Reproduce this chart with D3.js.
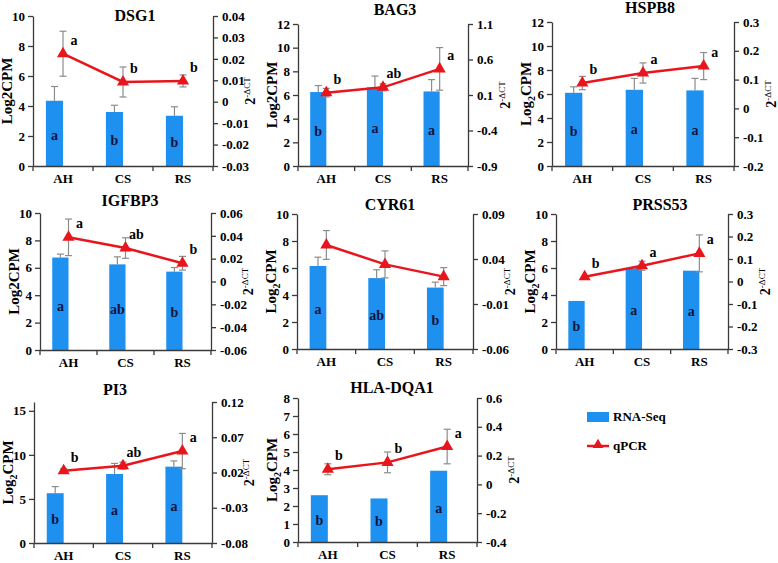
<!DOCTYPE html>
<html>
<head>
<meta charset="utf-8">
<script src="https://cdn.jsdelivr.net/npm/d3@7/dist/d3.min.js"></script>
<style>
  body { margin: 0; background: #fff; }
  text { font-family: "Liberation Serif", "Times New Roman", serif; font-weight: bold; fill: #000; }
</style>
</head>
<body>
<div id="chart"></div>
<script>
// Chart data
var genes = ["DSG1", "BAG3", "HSPB8", "IGFBP3", "CYR61", "PRSS53", "PI3", "HLA-DQA1"];
var groups = ["AH", "CS", "RS"];

// RNA-Seq, Log2CPM (left axis)
var rnaSeq = [
  [4.35, 3.6, 3.35],
  [6.25, 6.65, 6.3],
  [6.1, 6.35, 6.3],
  [6.75, 6.25, 5.72],
  [6.15, 5.25, 4.55],
  [3.56, 5.98, 5.8],
  [5.65, 7.83, 8.66],
  [2.6, 2.42, 3.96]
];
var rnaSeqErr = [
  [0.95, 0.45, 0.6],
  [0.55, 0.95, 1.0],
  [0.5, 0.95, 1.0],
  [0.25, 0.55, 0.3],
  [0.65, 0.62, 0.4],
  [0, 0, 0],
  [0.75, 1.2, 0.65],
  [0, 0, 0]
];
var rnaSeqLetters = [
  ["a", "b", "b"],
  ["b", "a", "a"],
  ["b", "a", "a"],
  ["a", "ab", "b"],
  ["a", "ab", "b"],
  ["b", "a", "a"],
  ["b", "a", "a"],
  ["b", "b", "a"]
];

// qPCR, 2^-dCT (right axis)
var qpcr = [
  [0.0224, 0.0092, 0.0097],
  [0.133, 0.208, 0.468],
  [0.088, 0.123, 0.147],
  [0.0387, 0.0293, 0.016],
  [0.0556, 0.034, 0.0204],
  [0.0215, 0.07, 0.125],
  [0.0226, 0.0297, 0.0504],
  [0.105, 0.153, 0.263]
];
var qpcrErr = [
  [0.0105, 0.007, 0.0028],
  [0.06, 0.05, 0.3],
  [0.023, 0.035, 0.047],
  [0.016, 0.009, 0.006],
  [0.016, 0.015, 0.01],
  [0, 0.02, 0.082],
  [0.003, 0.005, 0.025],
  [0.038, 0.072, 0.12]
];
var qpcrLetters = [
  ["a", "b", "b"],
  ["b", "ab", "a"],
  ["b", "a", "a"],
  ["a", "ab", "b"],
  ["", "", ""],
  ["b", "a", "a"],
  ["b", "ab", "a"],
  ["b", "b", "a"]
];

// Axis ticks
var leftTicks = [
  [0, 2, 4, 6, 8, 10],
  [0, 2, 4, 6, 8, 10, 12],
  [0, 2, 4, 6, 8, 10, 12],
  [0, 2, 4, 6, 8, 10],
  [0, 2, 4, 6, 8, 10],
  [0, 2, 4, 6, 8, 10],
  [0, 5, 10, 15],
  [0, 1, 2, 3, 4, 5, 6, 7, 8]
];
var leftMax = [10, 12, 12, 10, 10, 10, 16, 8];
var rightTicks = [
  [-0.03, -0.02, -0.01, 0, 0.01, 0.02, 0.03, 0.04],
  [-0.9, -0.4, 0.1, 0.6, 1.1],
  [-0.2, -0.1, 0, 0.1, 0.2, 0.3],
  [-0.06, -0.04, -0.02, 0, 0.02, 0.04, 0.06],
  [-0.06, -0.01, 0.04, 0.09],
  [-0.3, -0.2, -0.1, 0, 0.1, 0.2, 0.3],
  [-0.08, -0.03, 0.02, 0.07, 0.12],
  [-0.4, -0.2, 0, 0.2, 0.4, 0.6]
];
// is the "2" in Log2CPM drawn as subscript
var subscript2 = [false, false, true, false, true, true, true, true];
var legendLabels = ["RNA-Seq", "qPCR"];

// Panel frames in pixels
var frames = [
  {left: 33, right: 213, top: 16, bottom: 166, titleX: 135, titleY: 21},
  {left: 298, right: 468, top: 24, bottom: 166, titleX: 395, titleY: 15},
  {left: 552, right: 734, top: 22, bottom: 166, titleX: 650, titleY: 13},
  {left: 40, right: 211, top: 213, bottom: 350, titleX: 130, titleY: 206},
  {left: 297, right: 473, top: 214, bottom: 349, titleX: 390, titleY: 210},
  {left: 556, right: 728, top: 214, bottom: 349, titleX: 660, titleY: 210},
  {left: 34, right: 212, top: 402, bottom: 543, titleX: 115, titleY: 395},
  {left: 298, right: 477, top: 398, bottom: 542, titleX: 392, titleY: 393}
];

var barColor = "#1e90f0";
var lineColor = "#e8161c";
var errColor = "#8c8c8c";
var axisColor = "#3a3a3a";

var svg = d3.select("#chart").append("svg")
  .attr("width", 778)
  .attr("height", 563)
  .style("background", "#fff");

var fmt = function(d) { return String(+d.toFixed(4)); };

genes.forEach(function(gene, i) {
  var f = frames[i];
  var g = svg.append("g");

  var x = d3.scaleBand().domain(groups).range([f.left, f.right]);
  var yL = d3.scaleLinear().domain([0, leftMax[i]]).range([f.bottom, f.top]);
  var yR = d3.scaleLinear()
    .domain(d3.extent(rightTicks[i]))
    .range([f.bottom, f.top]);
  var barW = x.bandwidth() * 0.285;
  var cx = function(k) { return x(k) + x.bandwidth() / 2; };

  // Bars sit left of the category centre
  g.selectAll(".bar").data(groups).enter().append("rect")
    .attr("x", function(k) { return cx(k) - barW; })
    .attr("width", barW)
    .attr("y", function(k, j) { return yL(rnaSeq[i][j]); })
    .attr("height", function(k, j) { return f.bottom - yL(rnaSeq[i][j]); })
    .attr("fill", barColor);

  // Bar error bars (upper only)
  groups.forEach(function(k, j) {
    if (!rnaSeqErr[i][j]) return;
    var bx = cx(k) - barW / 2;
    var y0 = yL(rnaSeq[i][j]), y1 = yL(rnaSeq[i][j] + rnaSeqErr[i][j]);
    g.append("line").attr("x1", bx).attr("x2", bx).attr("y1", y0).attr("y2", y1)
      .attr("stroke", errColor).attr("stroke-width", 1.2);
    g.append("line").attr("x1", bx - 3.5).attr("x2", bx + 3.5).attr("y1", y1).attr("y2", y1)
      .attr("stroke", errColor).attr("stroke-width", 1.2);
  });

  // Bar letters
  g.selectAll(".bl").data(groups).enter().append("text")
    .attr("x", function(k) { return cx(k) - barW / 2; })
    .attr("y", function(k, j) { return yL(rnaSeq[i][j] * 0.48) + 5; })
    .attr("text-anchor", "middle")
    .style("font-size", "14px")
    .style("fill", "#14143c")
    .text(function(k, j) { return rnaSeqLetters[i][j]; });

  // Axes
  var leftAxis = d3.axisLeft(yL).tickValues(leftTicks[i]).tickSize(5).tickSizeOuter(0).tickPadding(3);
  var rightAxis = d3.axisRight(yR).tickValues(rightTicks[i]).tickSize(5).tickSizeOuter(0).tickPadding(4).tickFormat(fmt);
  var bottomAxis = d3.axisBottom(x).tickSize(0).tickPadding(8);

  [
    g.append("g").attr("transform", "translate(" + f.left + ",0)").call(leftAxis),
    g.append("g").attr("transform", "translate(" + f.right + ",0)").call(rightAxis),
    g.append("g").attr("transform", "translate(0," + f.bottom + ")").call(bottomAxis)
  ].forEach(function(ax) {
    ax.selectAll("path, line").attr("stroke", axisColor).attr("stroke-width", 1.3);
    ax.selectAll("text").attr("fill", "#000").style("font-size", "13px")
      .style("font-family", "'Liberation Serif', serif").style("font-weight", "bold");
  });

  // Category separator ticks
  var seps = groups.map(function(k) { return x(k); }).concat([f.right]);
  g.selectAll(".sep").data(seps).enter().append("line")
    .attr("x1", function(d) { return d; }).attr("x2", function(d) { return d; })
    .attr("y1", f.bottom).attr("y2", f.bottom + 5)
    .attr("stroke", axisColor).attr("stroke-width", 1.3);

  // qPCR error bars
  groups.forEach(function(k, j) {
    var e = qpcrErr[i][j];
    if (!e) return;
    var px = cx(k);
    var y0 = yR(qpcr[i][j] - e), y1 = yR(qpcr[i][j] + e);
    g.append("line").attr("x1", px).attr("x2", px).attr("y1", y0).attr("y2", y1)
      .attr("stroke", errColor).attr("stroke-width", 1.2);
    [y0, y1].forEach(function(yy) {
      g.append("line").attr("x1", px - 3.5).attr("x2", px + 3.5).attr("y1", yy).attr("y2", yy)
        .attr("stroke", errColor).attr("stroke-width", 1.2);
    });
  });

  // qPCR line
  var line = d3.line()
    .x(function(d, j) { return cx(groups[j]); })
    .y(function(d) { return yR(d); });
  g.append("path").datum(qpcr[i])
    .attr("d", line)
    .attr("fill", "none")
    .attr("stroke", lineColor)
    .attr("stroke-width", 2.5);

  g.selectAll(".pt").data(qpcr[i]).enter().append("path")
    .attr("d", d3.symbol(d3.symbolTriangle).size(64))
    .attr("transform", function(d, j) { return "translate(" + cx(groups[j]) + "," + yR(d) + ")"; })
    .attr("fill", lineColor);

  // qPCR letters
  g.selectAll(".ql").data(qpcr[i]).enter().append("text")
    .attr("x", function(d, j) { return cx(groups[j]) + 11; })
    .attr("y", function(d) { return yR(d) - 9; })
    .attr("text-anchor", "middle")
    .style("font-size", "14px")
    .text(function(d, j) { return qpcrLetters[i][j]; });

  // Title
  g.append("text")
    .attr("x", f.titleX).attr("y", f.titleY)
    .attr("text-anchor", "middle")
    .style("font-size", "16px")
    .text(gene);

  // Left label
  var midY = (f.top + f.bottom) / 2;
  var yl = g.append("text")
    .attr("transform", "translate(" + (f.left - 21) + "," + midY + ") rotate(-90)")
    .attr("text-anchor", "middle")
    .style("font-size", "15px");
  yl.append("tspan").text("Log");
  if (subscript2[i]) {
    yl.append("tspan").attr("dy", 4).style("font-size", "10px").text("2");
    yl.append("tspan").attr("dy", -4).text("CPM");
  } else {
    yl.append("tspan").text("2CPM");
  }

  // Right label
  var yr = g.append("text")
    .attr("transform", "translate(" + (f.right + 42) + "," + midY + ") rotate(-90)")
    .attr("text-anchor", "middle")
    .style("font-size", "14px");
  yr.append("tspan").text("2");
  yr.append("tspan").attr("dy", -5).style("font-size", "9px").style("font-weight", "normal").text("-\u0394CT");
});

// Legend
var legend = svg.append("g").attr("transform", "translate(587,0)");
legend.append("rect").attr("x", 0).attr("y", 412).attr("width", 22).attr("height", 10).attr("fill", barColor);
legend.append("text").attr("x", 26).attr("y", 421).style("font-size", "13px").text(legendLabels[0]);
legend.append("line").attr("x1", 0).attr("x2", 22).attr("y1", 446).attr("y2", 446)
  .attr("stroke", lineColor).attr("stroke-width", 2.5);
legend.append("path").attr("d", d3.symbol(d3.symbolTriangle).size(50))
  .attr("transform", "translate(11,445)").attr("fill", lineColor);
legend.append("text").attr("x", 26).attr("y", 450).style("font-size", "13px").text(legendLabels[1]);
</script>
</body>
</html>
